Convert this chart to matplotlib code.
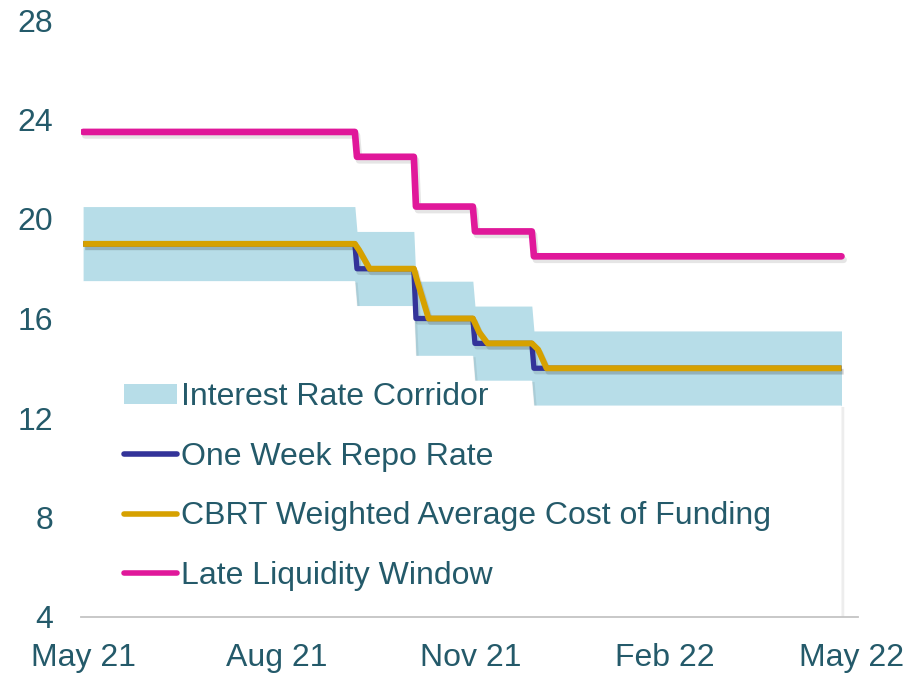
import matplotlib
matplotlib.use("Agg")
import matplotlib.pyplot as plt
import matplotlib.patheffects as pe
import pandas as pd
from matplotlib.patches import Patch
from matplotlib.lines import Line2D

plt.rcParams['font.family'] = ['Liberation Sans', 'DejaVu Sans']

# ---- data ----
start_date = "2021-05-17"
end_date = "2022-05-12"
change_dates = ["2021-09-23", "2021-10-21", "2021-11-18", "2021-12-16"]
repo_rate = [19, 18, 16, 15, 14]
corridor_low = [17.5, 16.5, 14.5, 13.5, 12.5]
corridor_high = [20.5, 19.5, 17.5, 16.5, 15.5]
late_liquidity = [23.5, 22.5, 20.5, 19.5, 18.5]

funding_dates = ["2021-05-17", "2021-09-23", "2021-09-25", "2021-09-30",
                 "2021-10-21", "2021-10-23", "2021-10-28",
                 "2021-11-18", "2021-11-21", "2021-11-25",
                 "2021-12-16", "2021-12-19", "2021-12-23", "2022-05-12"]
funding_cost = [19, 19, 18.75, 18, 18, 17.4, 16, 16, 15.45, 15, 15, 14.75, 14, 14]

tick_dates = ["2021-05-17", "2021-08-17", "2021-11-17", "2022-02-17", "2022-05-17"]
tick_labels = ["May 21", "Aug 21", "Nov 21", "Feb 22", "May 22"]
y_ticks = [4, 8, 12, 16, 20, 24, 28]


def step_series(values):
    xs = [pd.Timestamp(start_date)]
    ys = [values[0]]
    for i, d in enumerate(change_dates):
        t = pd.Timestamp(d)
        xs += [t, t + pd.Timedelta(days=1)]
        ys += [values[i], values[i + 1]]
    xs.append(pd.Timestamp(end_date))
    ys.append(values[-1])
    return xs, ys


text_color = "#245A6A"
c_corr = "#B7DDE8"
c_repo = "#333399"
c_fund = "#D6A100"
c_llw = "#E0189A"

fig = plt.figure(figsize=(9.2, 6.74), dpi=100)
ax = fig.add_axes([81 / 920, 1 - 617 / 674, (858 - 81) / 920, (617 - 20) / 674])

shadow = [pe.SimpleLineShadow(offset=(1.5, -2.5), shadow_color="black", alpha=0.10), pe.Normal()]

xl, yl = step_series(corridor_low)
xh, yh = step_series(corridor_high)
ax.fill_between(xh, yl, yh, color=c_corr, lw=0, zorder=1)
ax.fill_between(xl, 4, yl, color="white", lw=0, zorder=1.5,
                path_effects=[pe.SimplePatchShadow(offset=(2, -1), shadow_rgbFace="black", alpha=0.07), pe.Normal()])

xr, yr = step_series(repo_rate)
ax.plot(xr, yr, color=c_repo, lw=3.8, zorder=3, solid_capstyle="butt", path_effects=shadow)
ax.plot(pd.to_datetime(funding_dates), funding_cost, color=c_fund, lw=4.3, zorder=4,
        solid_capstyle="butt", path_effects=shadow)
xp, yp = step_series(late_liquidity)
ax.plot(xp, yp, color=c_llw, lw=4.8, zorder=5, solid_capstyle="round", path_effects=shadow)

ax.set_ylim(4, 28)
ax.set_xlim(pd.Timestamp("2021-05-16"), pd.Timestamp("2022-05-19 20:00"))
ax.set_yticks(y_ticks)
ax.set_xticks(pd.to_datetime(tick_dates))
ax.set_xticklabels(tick_labels)
ax.tick_params(axis="both", length=0, labelsize=23, colors=text_color)
ax.tick_params(axis="y", pad=20)
ax.tick_params(axis="x", pad=19)
for s in ["top", "right", "left"]:
    ax.spines[s].set_visible(False)
ax.spines["bottom"].set_color("#C4C4C4")
ax.spines["bottom"].set_linewidth(1.3)
ax.spines["bottom"].set_zorder(6)

handles = [Patch(facecolor=c_corr, edgecolor="none"),
           Line2D([], [], color=c_repo, lw=4, solid_capstyle="round"),
           Line2D([], [], color=c_fund, lw=4, solid_capstyle="round"),
           Line2D([], [], color=c_llw, lw=4, solid_capstyle="round")]
labels = ["Interest Rate Corridor", "One Week Repo Rate",
          "CBRT Weighted Average Cost of Funding", "Late Liquidity Window"]
leg = fig.legend(handles, labels, loc="upper left", bbox_to_anchor=(124 / 920, 1 - 382 / 674),
                 frameon=False, fontsize=23, labelcolor=text_color, handlelength=1.65,
                 handletextpad=0.15, labelspacing=0.93, borderpad=0, borderaxespad=0,
                 handleheight=0.6)

fig.savefig("out.png", dpi=100)
